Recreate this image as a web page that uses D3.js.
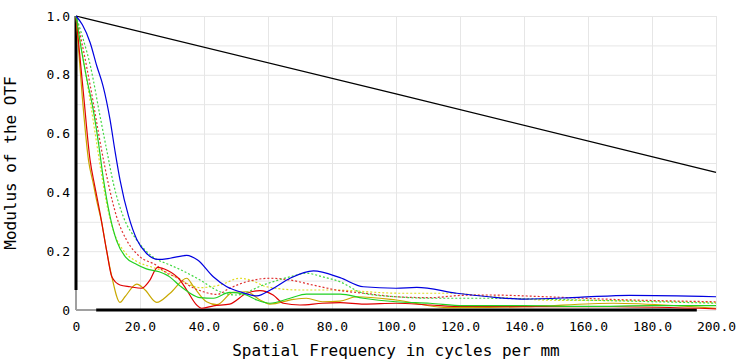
<!DOCTYPE html>
<html>
<head>
<meta charset="utf-8">
<script src="https://cdn.jsdelivr.net/npm/d3@7"></script>
<style>
  body { margin: 0; background: #fff; }
  svg text { font-family: "DejaVu Sans Mono", monospace; fill: #000; }
  .grid line { stroke: #e6e6e6; stroke-width: 1; }
  .grid path { display: none; }
  .ticks path, .ticks line { display: none; }
</style>
</head>
<body>
<div class="chart"></div>
<script>
/* MTF data: [spatial frequency (cycles/mm), modulus] */
var diffLimit = [[0, 1], [100, 0.735], [200, 0.468]];

var blueT = [[0, 1], [2, 0.97], [4.4, 0.91], [6.5, 0.83], [8.5, 0.76], [10.6, 0.65], [12.2, 0.54],
  [13.8, 0.44], [16.4, 0.32], [19, 0.24], [22, 0.193], [25.7, 0.172], [29.4, 0.176], [34.6, 0.186],
  [38, 0.17], [42.9, 0.113], [47, 0.08], [51.2, 0.062], [56.5, 0.048], [61, 0.07], [66.9, 0.108],
  [74.2, 0.133], [82.5, 0.11], [89.8, 0.079], [100, 0.074], [106.5, 0.077], [119, 0.057],
  [129, 0.045], [140, 0.037], [157, 0.043], [173, 0.05], [200, 0.045]];

var greenT = [[0, 1], [1.3, 0.91], [3.3, 0.79], [5.4, 0.68], [7, 0.57], [8.5, 0.45], [10.6, 0.32],
  [12.7, 0.235], [15.5, 0.18], [19, 0.155], [22, 0.14], [26, 0.13], [29, 0.115], [32.5, 0.082],
  [35.5, 0.058], [38.7, 0.042], [43, 0.04], [48, 0.06], [53, 0.052], [56.5, 0.034], [60.6, 0.023],
  [66.9, 0.04], [72, 0.054], [82.5, 0.054], [89.8, 0.04], [100, 0.028], [110.6, 0.023],
  [121, 0.015], [140, 0.015], [160, 0.012], [180, 0.015], [200, 0.015]];

var greenS = [[0, 1], [2, 0.93], [4.5, 0.83], [7.5, 0.66], [9.6, 0.544], [11.7, 0.43], [14.8, 0.317],
  [19, 0.238], [24, 0.181], [29.4, 0.153], [32.5, 0.138], [38.75, 0.102], [45, 0.062], [50, 0.051],
  [58.5, 0.085], [66.9, 0.113], [72, 0.125], [77, 0.113], [82.5, 0.096], [89.8, 0.057],
  [100, 0.045], [110.6, 0.04], [126, 0.04], [157, 0.034], [200, 0.023]];

var redT = [[0, 1], [2.3, 0.74], [4.4, 0.51], [5.9, 0.42], [7.5, 0.33], [9.6, 0.2], [11.2, 0.113],
  [13.75, 0.085], [16.9, 0.079], [20.5, 0.074], [23, 0.1], [25.5, 0.145], [28.5, 0.135],
  [32.5, 0.102], [34.6, 0.068], [37.7, 0.017], [39.3, 0.006], [43, 0.014], [48, 0.02],
  [53.3, 0.057], [57.5, 0.066], [61.6, 0.051], [64.8, 0.023], [70, 0.017], [77, 0.023],
  [82.5, 0.025], [90, 0.02], [100, 0.023], [110.6, 0.017], [121, 0.012], [168, 0.011], [200, 0.004]];

var redS = [[0, 1], [2, 0.9], [4.5, 0.76], [8, 0.544], [10.1, 0.43], [12.7, 0.317], [15.8, 0.238],
  [20, 0.181], [25, 0.153], [28, 0.128], [32.5, 0.105], [34.6, 0.088], [39.8, 0.062], [44, 0.053],
  [48, 0.074], [53.3, 0.096], [60.6, 0.108], [66.9, 0.102], [74, 0.085], [82.5, 0.066],
  [90, 0.057], [100, 0.045], [110.6, 0.042], [121, 0.05], [129, 0.051], [147, 0.045],
  [168, 0.036], [200, 0.028]];

var yellowT = [[0, 1], [2, 0.72], [3.9, 0.51], [5.4, 0.43], [6.5, 0.37], [8, 0.3], [9.6, 0.2],
  [11.2, 0.113], [13.75, 0.026], [15.3, 0.045], [19, 0.088], [21.6, 0.068], [25.2, 0.026],
  [29.4, 0.057], [34.6, 0.108], [36.7, 0.08], [40.8, 0.028], [44, 0.018], [49, 0.06],
  [53.3, 0.062], [57.5, 0.034], [60.6, 0.02], [68, 0.036], [72, 0.04], [77, 0.028], [82.5, 0.03],
  [87.7, 0.045], [100, 0.034], [115.8, 0.008], [129, 0.009], [140, 0.011], [168, 0.023],
  [188.75, 0.014], [200, 0.006]];

var yellowS = [[0, 1], [2, 0.87], [4, 0.74], [6, 0.6], [8, 0.46], [10, 0.34], [12, 0.26], [15, 0.2],
  [19, 0.165], [24, 0.145], [29, 0.125], [33, 0.1], [38.75, 0.076], [45, 0.085], [51.25, 0.108],
  [55, 0.1], [59.6, 0.079], [70, 0.068], [80, 0.068], [101, 0.057], [117, 0.057], [130, 0.045],
  [150, 0.033], [170, 0.032], [200, 0.025]];

var xTicks = [0, 20, 40, 60, 80, 100, 120, 140, 160, 180, 200];
var yTicks = [0, 0.2, 0.4, 0.6, 0.8, 1.0];
var xGrid = xTicks;
var yGrid = [0, 0.1, 0.2, 0.3, 0.4, 0.5, 0.6, 0.7, 0.8, 0.9, 1.0];

var series = [
  { data: diffLimit, color: "#000000", dash: null },
  { data: yellowS, color: "#e0dc20", dash: "2,2" },
  { data: yellowT, color: "#c8a800", dash: null },
  { data: redS, color: "#e03030", dash: "2,2" },
  { data: redT, color: "#e00000", dash: null },
  { data: greenS, color: "#40d840", dash: "2,2" },
  { data: greenT, color: "#20d020", dash: null },
  { data: blueT, color: "#0000e0", dash: null }
];

/**
 * Setup drawing area
 */
var width = 742;
var height = 364;
var margin = { top: 16, right: 26, bottom: 54, left: 76 };
var plotW = width - margin.left - margin.right;
var plotH = height - margin.top - margin.bottom;

var svg = d3.select(".chart").append("svg")
  .attr("width", width)
  .attr("height", height);

var g = svg.append("g")
  .attr("transform", "translate(" + margin.left + "," + margin.top + ")");

var x = d3.scaleLinear().domain([0, 200]).range([0, plotW]);
var y = d3.scaleLinear().domain([0, 1]).range([plotH, 0]);

// Grid
g.append("g")
  .attr("class", "grid")
  .attr("transform", "translate(0," + plotH + ")")
  .call(d3.axisBottom(x).tickValues(xGrid).tickSize(-plotH).tickFormat(""));

g.append("g")
  .attr("class", "grid")
  .call(d3.axisLeft(y).tickValues(yGrid).tickSize(-plotW).tickFormat(""));

// Tick labels
var xAxis = g.append("g")
  .attr("class", "ticks")
  .attr("transform", "translate(0," + plotH + ")")
  .call(d3.axisBottom(x).tickValues(xTicks).tickSize(0).tickPadding(12)
    .tickFormat(function (d) { return d === 0 ? "0" : d.toFixed(1); }));
xAxis.selectAll("text").style("font-size", "13px");

var yAxis = g.append("g")
  .attr("class", "ticks")
  .call(d3.axisLeft(y).tickValues(yTicks).tickSize(0).tickPadding(6)
    .tickFormat(function (d) { return d === 0 ? "0" : d.toFixed(1); }));
yAxis.selectAll("text").style("font-size", "13px");

// Axis frame lines (grey near the origin, black elsewhere)
g.append("line")
  .attr("x1", x(0)).attr("x2", x(0))
  .attr("y1", y(0)).attr("y2", y(0.068))
  .attr("stroke", "#a0a0a0").attr("stroke-width", 2);
g.append("line")
  .attr("x1", x(0)).attr("x2", x(0))
  .attr("y1", y(0.068)).attr("y2", y(1))
  .attr("stroke", "#000").attr("stroke-width", 3);
g.append("line")
  .attr("x1", x(0)).attr("x2", x(6.3))
  .attr("y1", y(0)).attr("y2", y(0))
  .attr("stroke", "#a0a0a0").attr("stroke-width", 2);
g.append("line")
  .attr("x1", x(6.3)).attr("x2", x(194))
  .attr("y1", y(0)).attr("y2", y(0))
  .attr("stroke", "#000").attr("stroke-width", 3);

// Curves
var line = d3.line()
  .x(function (d) { return x(d[0]); })
  .y(function (d) { return y(d[1]); })
  .curve(d3.curveMonotoneX);

series.forEach(function (s) {
  g.append("path")
    .datum(s.data)
    .attr("fill", "none")
    .attr("stroke", s.color)
    .attr("stroke-width", 1.2)
    .attr("stroke-dasharray", s.dash)
    .attr("d", line);
});

// Axis titles
svg.append("text")
  .attr("x", margin.left + plotW / 2)
  .attr("y", 356)
  .attr("text-anchor", "middle")
  .style("font-size", "16px")
  .text("Spatial Frequency in cycles per mm");

svg.append("text")
  .attr("transform", "translate(16," + (margin.top + plotH / 2) + ") rotate(-90)")
  .attr("text-anchor", "middle")
  .style("font-size", "16px")
  .text("Modulus of the OTF");
</script>
</body>
</html>
